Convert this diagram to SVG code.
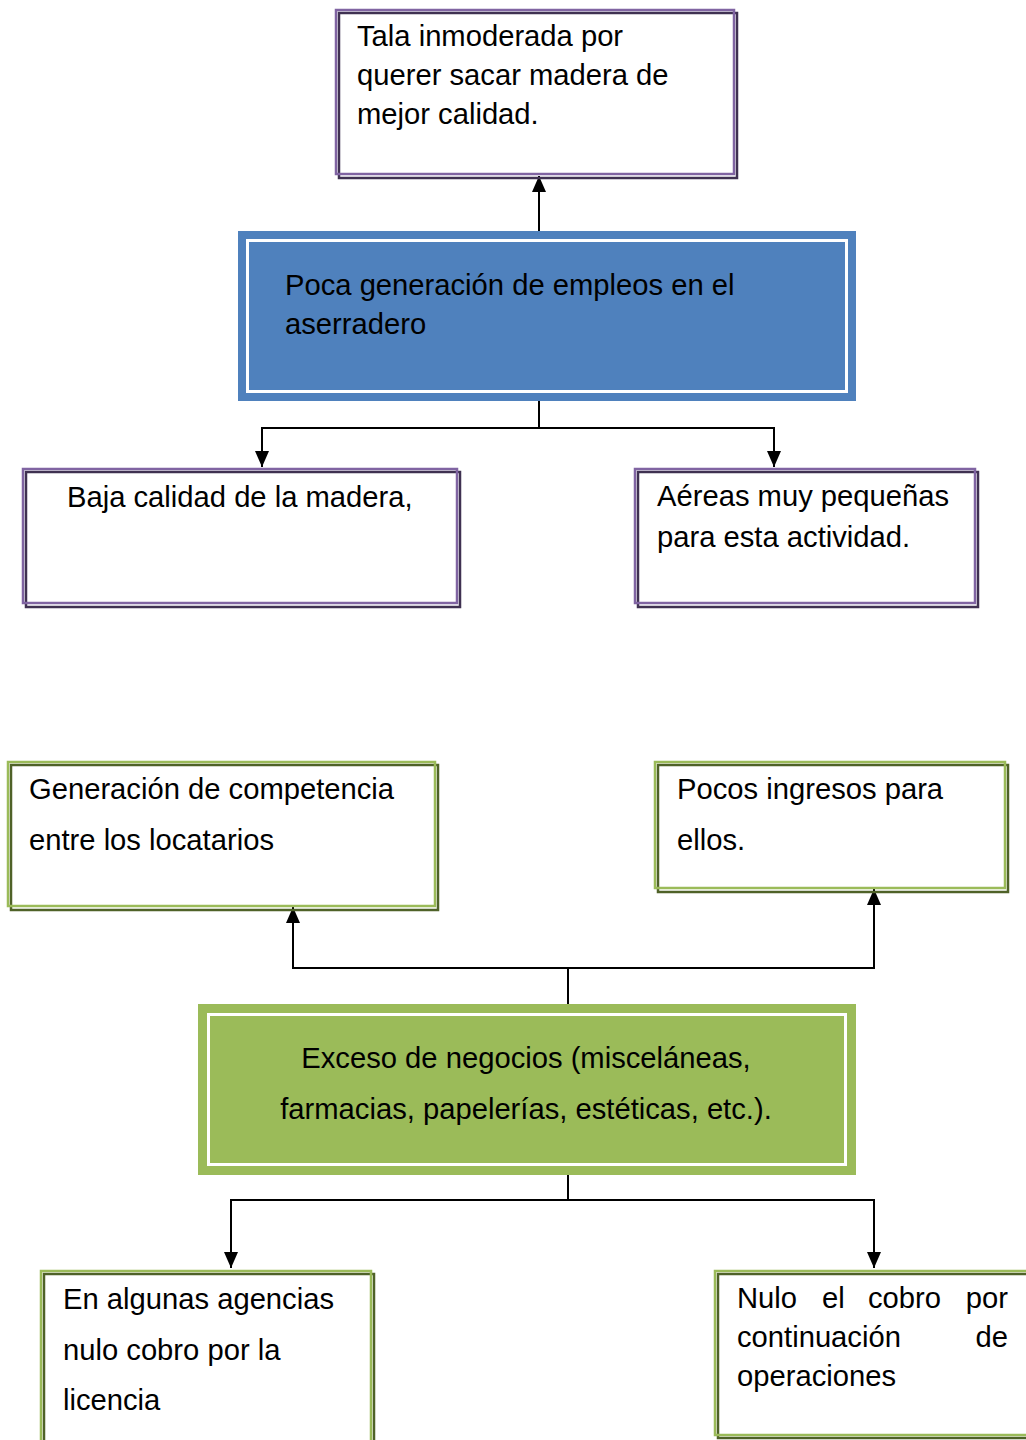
<svg xmlns="http://www.w3.org/2000/svg" width="1026" height="1440" viewBox="0 0 1026 1440">
<style>
text{font-family:"Liberation Sans",Arial,sans-serif;font-size:29.2px;fill:#000}
.pl{fill:none;stroke:#8064A2;stroke-width:2.5}
.pd{fill:none;stroke:#3F3151;stroke-width:2.5}
.gl{fill:none;stroke:#9BBB59;stroke-width:2.5}
.gd{fill:none;stroke:#4F6228;stroke-width:2.5}
.con{fill:none;stroke:#000;stroke-width:2}
</style>
<defs>
<marker id="ah" viewBox="0 0 16 14" refX="16" refY="7" markerWidth="16" markerHeight="14" markerUnits="userSpaceOnUse" orient="auto">
<path d="M0,0 L16,7 L0,14 Z" fill="#000"/>
</marker>
</defs>
<rect width="1026" height="1440" fill="#fff"/>
<g id="connectors">
<path class="con" d="M539,245 V176" marker-end="url(#ah)"/>
<path class="con" d="M539,389 V428 H262 V467" marker-end="url(#ah)"/>
<path class="con" d="M539,428 H774 V467" marker-end="url(#ah)"/>
<path class="con" d="M568,1017 V968 H293 V907" marker-end="url(#ah)"/>
<path class="con" d="M568,968 H874 V889" marker-end="url(#ah)"/>
<path class="con" d="M568,1164 V1200 H231 V1268" marker-end="url(#ah)"/>
<path class="con" d="M568,1200 H874 V1268" marker-end="url(#ah)"/>
</g>
<g id="n-tala">
<rect class="pd" x="339" y="13" width="398" height="165"/>
<rect class="pl" x="336" y="10" width="398" height="164"/>
<text x="357" y="46">Tala inmoderada por</text>
<text x="357" y="85">querer sacar madera de</text>
<text x="357" y="124">mejor calidad.</text>
</g>
<g id="n-poca">
<rect x="238" y="231" width="618" height="170" fill="#4F81BD"/>
<rect x="247.5" y="240.5" width="599" height="151" fill="none" stroke="#fff" stroke-width="3"/>
<text x="285" y="295">Poca generación de empleos en el</text>
<text x="285" y="334">aserradero</text>
</g>
<g id="n-baja">
<rect class="pd" x="26" y="472" width="434" height="135"/>
<rect class="pl" x="23" y="469" width="434" height="134"/>
<text x="67" y="507">Baja calidad de la madera,</text>
</g>
<g id="n-aereas">
<rect class="pd" x="638" y="472" width="340" height="135"/>
<rect class="pl" x="635" y="469" width="340" height="134"/>
<text x="657" y="506">Aéreas muy pequeñas</text>
<text x="657" y="547">para esta actividad.</text>
</g>
<g id="n-generacion">
<rect class="gd" x="11" y="765" width="427" height="145"/>
<rect class="gl" x="8" y="762" width="427" height="144"/>
<text x="29" y="799">Generación de competencia</text>
<text x="29" y="850">entre los locatarios</text>
</g>
<g id="n-pocos">
<rect class="gd" x="658" y="765" width="350" height="127"/>
<rect class="gl" x="655" y="762" width="350" height="126"/>
<text x="677" y="799">Pocos ingresos para</text>
<text x="677" y="850">ellos.</text>
</g>
<g id="n-exceso">
<rect x="198" y="1004" width="658" height="171" fill="#9BBB59"/>
<rect x="208.5" y="1014.5" width="637" height="150" fill="none" stroke="#fff" stroke-width="3"/>
<text x="526" y="1068" text-anchor="middle">Exceso de negocios (misceláneas,</text>
<text x="526" y="1119" text-anchor="middle">farmacias, papelerías, estéticas, etc.).</text>
</g>
<g id="n-algunas">
<rect class="gd" x="44" y="1274" width="330" height="175"/>
<rect class="gl" x="41" y="1271" width="330" height="175"/>
<text x="63" y="1309">En algunas agencias</text>
<text x="63" y="1360">nulo cobro por la</text>
<text x="63" y="1410">licencia</text>
</g>
<g id="n-nulo">
<rect class="gd" x="718" y="1274" width="320" height="164"/>
<rect class="gl" x="715" y="1271" width="320" height="164"/>
<text x="737" y="1308">Nulo</text>
<text x="822" y="1308">el</text>
<text x="868" y="1308">cobro</text>
<text x="1008" y="1308" text-anchor="end">por</text>
<text x="737" y="1347">continuación</text>
<text x="1008" y="1347" text-anchor="end">de</text>
<text x="737" y="1386">operaciones</text>
</g>
</svg>
